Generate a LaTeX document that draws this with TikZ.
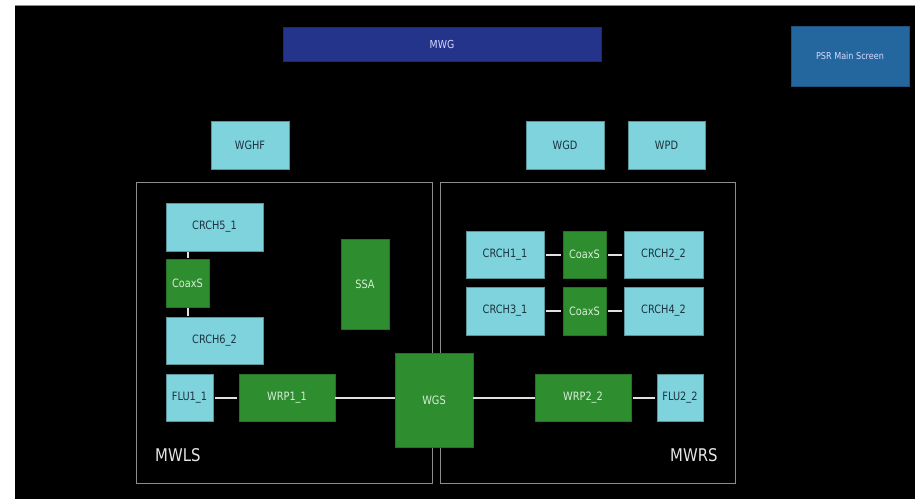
\documentclass[tikz,border=0pt]{standalone}
\usepackage{fontspec}
\setmainfont{DejaVu Sans}[FakeStretch=0.85]
\usepackage{tikz}
\definecolor{boxcyan}{RGB}{127,211,221}
\definecolor{boxgreen}{RGB}{46,141,46}
\definecolor{mwgblue}{RGB}{35,52,138}
\definecolor{psrblue}{RGB}{35,103,158}
\definecolor{darktext}{RGB}{28,51,64}
\definecolor{greentext}{RGB}{214,238,214}
\definecolor{framegray}{RGB}{140,140,140}
\definecolor{topline}{RGB}{128,140,176}
\tikzset{
  unit/.style={draw=boxcyan!70!black, line width=0.4pt, fill=boxcyan, text=darktext,
    font=\fontsize{11.5}{11.5}\selectfont, inner sep=0pt},
  sw/.style={draw=boxgreen!80!black, line width=0.4pt, fill=boxgreen, text=greentext,
    font=\fontsize{11.5}{11.5}\selectfont, inner sep=0pt},
  link/.style={line width=2pt, color=white!88!black},
  frame/.style={line width=0.8pt, color=framegray},
  sidename/.style={text=white!90!black, font=\fontsize{17.5}{17.5}\selectfont, inner sep=0pt}
}

\begin{document}
\begin{tikzpicture}[x=1pt, y=-1pt]
		%%%%% START %%%%%
		
		\useasboundingbox (0, 0) rectangle (915, 499);
		\fill[white] (0, 0) rectangle (915, 499);
		\fill[black] (15, 6) rectangle (915, 499);
		\draw[line width=1pt, color=topline] (15, 5.5) -- (915, 5.5);
		
		% top row
		\node (mwg) [draw=mwgblue!80!black, fill=mwgblue, text=white!85!blue, minimum width=318pt, minimum height=34pt,
		  font=\fontsize{11}{11}\selectfont, inner sep=0pt] at (442, 44) {MWG};
		\node (psr) [draw=psrblue!80!black, fill=psrblue, text=white!85!blue, minimum width=118pt, minimum height=60pt,
		  font=\fontsize{9.5}{9.5}\selectfont, inner sep=0pt] at (850, 56) {PSR Main Screen};
		
		\node (wghf) [unit, minimum width=78pt, minimum height=48pt] at (250, 145) {WGHF};
		\node (wgd) [unit, minimum width=78pt, minimum height=48pt] at (565, 145) {WGD};
		\node (wpd) [unit, minimum width=77pt, minimum height=48pt] at (666.5, 145) {WPD};
		
		% the two sides
		\draw[frame] (136, 182.5) rectangle (432, 483);
		\draw[frame] (440.5, 182.5) rectangle (735, 483);
		\node (mwls) [sidename, anchor=base west] at (155, 461) {MWLS};
		\node (mwrs) [sidename, anchor=base west] at (670, 461) {MWRS};
		
		% left side
		\node (crch5) [unit, minimum width=97pt, minimum height=48pt] at (214.5, 227) {CRCH5\_1};
		\node (coaxl) [sw, minimum width=43pt, minimum height=48pt] at (187.5, 283) {CoaxS};
		\node (crch6) [unit, minimum width=97pt, minimum height=47pt] at (214.5, 340.5) {CRCH6\_2};
		\node (flu1) [unit, minimum width=47pt, minimum height=47pt] at (189.5, 397.5) {FLU1\_1};
		\node (wrp1) [sw, minimum width=96pt, minimum height=47pt] at (287, 397.5) {WRP1\_1};
		\node (ssa) [sw, minimum width=48pt, minimum height=90pt] at (365, 284) {SSA};
		
		\node (wgs) [sw, minimum width=78pt, minimum height=94pt] at (434, 400) {WGS};
		
		% right side
		\node (crch1) [unit, minimum width=78pt, minimum height=47pt] at (505, 254.5) {CRCH1\_1};
		\node (coaxr1) [sw, minimum width=43pt, minimum height=47pt] at (584.5, 254.5) {CoaxS};
		\node (crch2) [unit, minimum width=79pt, minimum height=47pt] at (663.5, 254.5) {CRCH2\_2};
		\node (crch3) [unit, minimum width=78pt, minimum height=48pt] at (505, 311) {CRCH3\_1};
		\node (coaxr2) [sw, minimum width=43pt, minimum height=48pt] at (584.5, 311) {CoaxS};
		\node (crch4) [unit, minimum width=79pt, minimum height=48pt] at (663.5, 311) {CRCH4\_2};
		\node (wrp2) [sw, minimum width=96pt, minimum height=47pt] at (583, 397.5) {WRP2\_2};
		\node (flu2) [unit, minimum width=46pt, minimum height=47pt] at (680, 397.5) {FLU2\_2};
		
		% links
		\draw[link] ([yshift=-1pt]crch5.south -| coaxl) -- ([yshift=1pt]coaxl.north);
		\draw[link] ([yshift=-1pt]coaxl.south) -- ([yshift=1pt]crch6.north -| coaxl);
		\draw[link] ([xshift=2pt]flu1.east) -- ([xshift=-2pt]wrp1.west);
		\draw[link] (wrp1.east) -- (wgs.west |- wrp1.east);
		\draw[link] (wgs.east |- wrp2.west) -- (wrp2.west);
		\draw[link] ([xshift=2pt]wrp2.east) -- ([xshift=-2pt]flu2.west);
		\draw[link] ([xshift=2pt]crch1.east) -- ([xshift=-2pt]coaxr1.west);
		\draw[link] ([xshift=2pt]coaxr1.east) -- ([xshift=-2pt]crch2.west);
		\draw[link] ([xshift=2pt]crch3.east) -- ([xshift=-2pt]coaxr2.west);
		\draw[link] ([xshift=2pt]coaxr2.east) -- ([xshift=-2pt]crch4.west);
		
		%%%%% END %%%%%
	\end{tikzpicture}
\end{document}
